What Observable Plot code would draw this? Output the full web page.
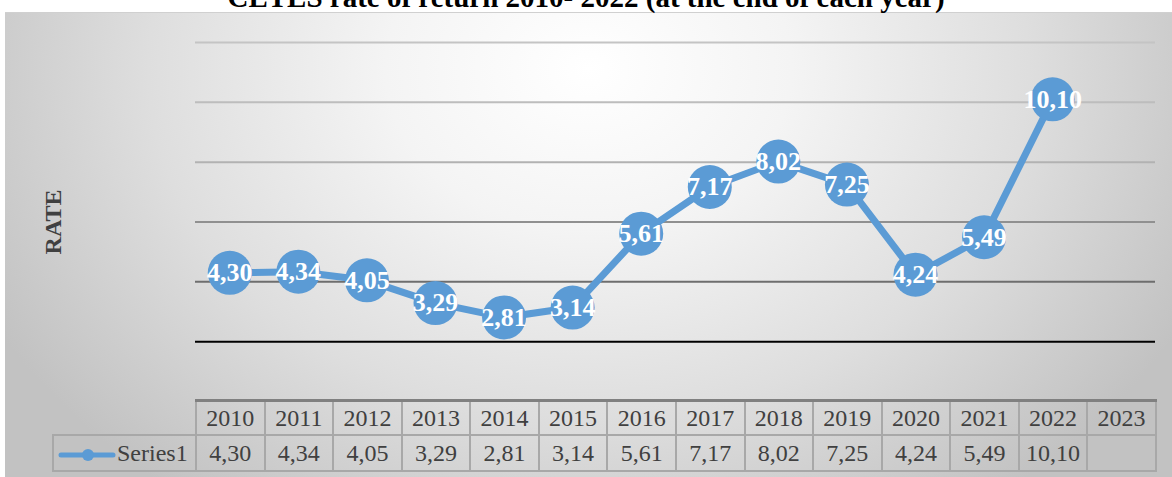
<!DOCTYPE html>
<html>
<head>
<meta charset="utf-8">
<script src="https://cdn.jsdelivr.net/npm/d3@7"></script>
<script src="https://cdn.jsdelivr.net/npm/@observablehq/plot@0.6"></script>
<style>
  html, body { margin: 0; padding: 0; background: #fff; }
  #wrap { position: relative; width: 1172px; height: 477px; overflow: hidden; font-family: "Liberation Serif", "Times New Roman", serif; }
  #bg { position: absolute; left: 5px; top: 12px; width: 1167px; height: 465px;
        background: radial-gradient(ellipse 58% 115% at 50% 12%, #ffffff 0%, #f4f4f4 30%, #dedede 65%, #c2c2c2 100%);
        border-top: 1px solid #d0d0d0; }
  #title { position: absolute; left: 0; width: 1172px; top: -17px; line-height: 29px; text-align: center;
           font-weight: bold; font-size: 29px; color: #000; white-space: nowrap; }
  #chart { position: absolute; left: 0; top: 0; }
  #tbl { position: absolute; left: 52px; top: 399px; border-collapse: collapse; table-layout: fixed;
         font-size: 24px; color: #404040; }
  #tbl td { border: 2px solid #a8a8a8; text-align: center; padding: 0; overflow: hidden; white-space: nowrap; line-height: 26px; }
  #tbl tr.head td { height: 32px; border-top: 3px solid #808080; }
  #tbl tr.head td.blank { border: none; border-right: 2px solid #a8a8a8; }
  #tbl tr.vals td { height: 34px; }
  #tbl td.legend { text-align: left; padding-left: 4px; }
</style>
</head>
<body>
<div id="wrap">
  <div id="bg"></div>
  <div id="title">CETES rate of return 2010- 2022 (at the end of each year)</div>
  <div id="chart"></div>
</div>
<script>
const years = ["2010","2011","2012","2013","2014","2015","2016","2017","2018","2019","2020","2021","2022","2023"];
const rates = [4.30, 4.34, 4.05, 3.29, 2.81, 3.14, 5.61, 7.17, 8.02, 7.25, 4.24, 5.49, 10.10, null];
const gridValues = [2, 4, 6, 8, 10, 12];
const gridColors = ["#000000", "#6e6e6e", "#909090", "#b2b2b2", "#bdbdbd", "#c4c4c4"];
const seriesName = "Series1";
const yLabel = "RATE";

const fmt = v => v == null ? "" : v.toFixed(2).replace(".", ",");
const data = years.map((y, i) => ({year: y, rate: rates[i]})).filter(d => d.rate != null);
const grid = gridValues.map((v, i) => ({v, c: gridColors[i]}));

const serif = "Liberation Serif, Times New Roman, serif";
const blue = "#5b9bd5";

const plot = Plot.plot({
  width: 1172,
  height: 477,
  marginLeft: 195,
  marginRight: 17,
  marginTop: 42,
  marginBottom: 76,
  style: {background: "transparent", overflow: "visible", fontFamily: serif},
  x: {type: "band", domain: years, padding: 0, round: false, axis: null},
  y: {domain: [0, 12], axis: null},
  color: {type: "identity"},
  marks: [
    Plot.ruleY(grid, {y: "v", stroke: "c", strokeWidth: 2}),
    Plot.text([yLabel], {frameAnchor: "left", textAnchor: "middle", dx: -142, rotate: -90, fontSize: 24, fontWeight: "bold", fill: "#404040", fontFamily: serif}),
    Plot.line(data, {x: "year", y: "rate", stroke: blue, strokeWidth: 7, strokeLinejoin: "round"}),
    Plot.dot(data, {x: "year", y: "rate", r: 22, fill: blue, stroke: "none"}),
    Plot.text(data, {x: "year", y: "rate", text: d => fmt(d.rate), fill: "white", fontSize: 26, fontWeight: "bold", fontFamily: serif})
  ]
});
document.getElementById("chart").appendChild(plot);

// data table built from the same arrays, aligned with Plot's x scale
const xs = plot.scale("x");
const bw = xs.bandwidth;
const firstLeft = xs.apply(years[0]);
const legendW = firstLeft - 52;
const tbl = document.createElement("table");
tbl.id = "tbl";
tbl.style.width = (legendW + bw * years.length) + "px";
let html = "<colgroup><col style='width:" + legendW + "px'>" + years.map(() => "<col style='width:" + bw + "px'>").join("") + "</colgroup>";
html += "<tr class='head'><td class='blank'></td>" + years.map(y => "<td>" + y + "</td>").join("") + "</tr>";
html += "<tr class='vals'><td class='legend'><svg width='58' height='14' style='vertical-align:middle;margin-right:1px'><line x1='3' y1='7' x2='55' y2='7' stroke='" + blue + "' stroke-width='5' stroke-linecap='round'/><circle cx='30' cy='7' r='6' fill='" + blue + "'/></svg>" + seriesName + "</td>" + rates.map(v => "<td>" + fmt(v) + "</td>").join("") + "</tr>";
tbl.innerHTML = html;
document.getElementById("wrap").appendChild(tbl);
</script>
</body>
</html>
